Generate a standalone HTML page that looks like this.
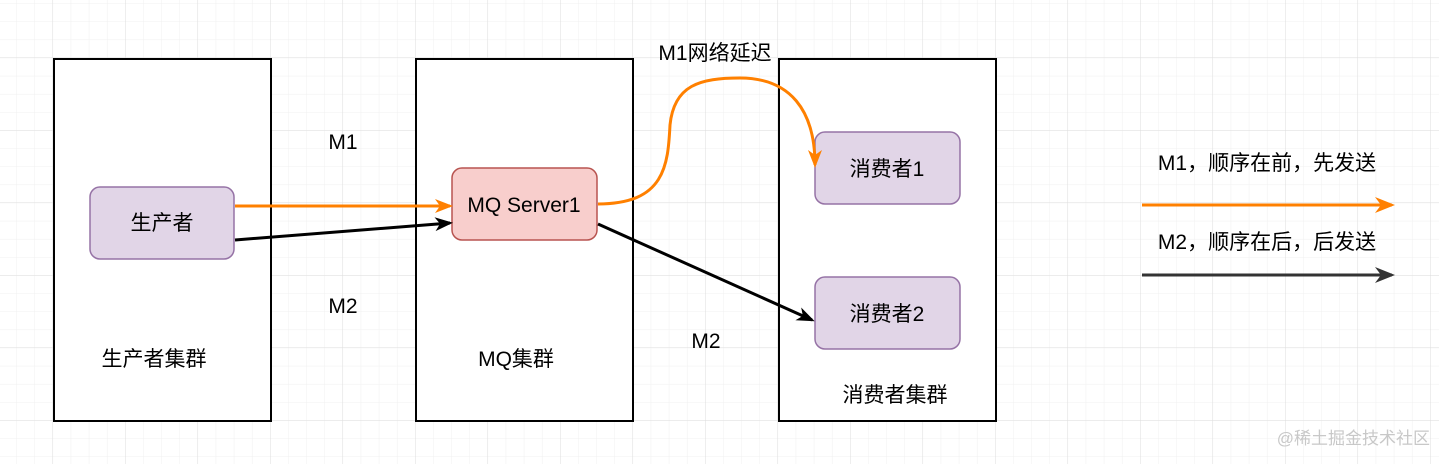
<!DOCTYPE html>
<html><head><meta charset="utf-8"><style>
html,body{margin:0;padding:0;background:#fff;}
</style></head><body>
<svg width="1439" height="464" xmlns="http://www.w3.org/2000/svg" font-family="Liberation Sans, Noto Sans CJK SC, sans-serif">
<defs>
<pattern id="minor" x="-1.3" y="3.8" width="18.125" height="18.125" patternUnits="userSpaceOnUse">
<path d="M18.125 0V18.125M0 18.125H18.125" stroke="#f0f0f0" stroke-width="1" fill="none"/>
</pattern>
<pattern id="major" x="-19.5" y="-14.5" width="72.5" height="72.5" patternUnits="userSpaceOnUse">
<path d="M72.5 0V72.5M0 72.5H72.5" stroke="#dedede" stroke-width="1" fill="none"/>
</pattern>
<marker id="ao" markerWidth="18" markerHeight="18" refX="15" refY="9" orient="auto" markerUnits="userSpaceOnUse" viewBox="0 0 18 18"><path d="M0,2 L18,9 L0,16 L5,9z" fill="#ff8000"/></marker>
<marker id="ak" markerWidth="18" markerHeight="18" refX="15" refY="9" orient="auto" markerUnits="userSpaceOnUse" viewBox="0 0 18 18"><path d="M0,2 L18,9 L0,16 L5,9z" fill="#000"/></marker>
<marker id="ao2" markerWidth="20" markerHeight="20" refX="17" refY="10" orient="auto" markerUnits="userSpaceOnUse" viewBox="0 0 20 20"><path d="M0,2 L20,10 L0,18 L6,10z" fill="#ff8000"/></marker>
<marker id="ag2" markerWidth="20" markerHeight="20" refX="17" refY="10" orient="auto" markerUnits="userSpaceOnUse" viewBox="0 0 20 20"><path d="M0,2 L20,10 L0,18 L6,10z" fill="#333"/></marker>
</defs>
<rect width="1439" height="464" fill="url(#minor)"/>
<rect width="1439" height="464" fill="url(#major)"/>
<g stroke="#000" stroke-width="2" fill="#fff">
<rect x="54" y="59" width="217" height="362"/>
<rect x="416" y="59" width="217" height="362"/>
<rect x="779" y="59" width="217" height="362"/>
</g>
<rect x="90" y="187" width="144" height="72" rx="10" fill="#e1d5e7" stroke="#9673a6" stroke-width="1.5"/>
<rect x="452" y="168" width="145" height="72" rx="10" fill="#f8cecc" stroke="#b85450" stroke-width="1.5"/>
<rect x="815" y="132" width="145" height="72" rx="10" fill="#e1d5e7" stroke="#9673a6" stroke-width="1.5"/>
<rect x="815" y="277" width="145" height="72" rx="10" fill="#e1d5e7" stroke="#9673a6" stroke-width="1.5"/>
<g font-size="21" text-anchor="middle" fill="#000">
<text x="162" y="230">生产者</text>
<text x="524" y="212">MQ Server1</text>
<text x="887" y="176">消费者1</text>
<text x="887" y="321">消费者2</text>
<text x="154" y="366">生产者集群</text>
<text x="516" y="366">MQ集群</text>
<text x="895" y="402">消费者集群</text>
<text x="343" y="149">M1</text>
<text x="343" y="313">M2</text>
<text x="706" y="348">M2</text>
<text x="715" y="60">M1网络延迟</text>
<text x="1267" y="170">M1，顺序在前，先发送</text>
<text x="1267" y="249">M2，顺序在后，后发送</text>
</g>
<path d="M235,206 L450,206" stroke="#ff8000" stroke-width="3" fill="none" marker-end="url(#ao)"/>
<path d="M235,240 L450,223" stroke="#000" stroke-width="3" fill="none" marker-end="url(#ak)"/>
<path d="M598,204 C665,204 668,165 670,125 C674,85 700,78 740,78 C790,78 815,110 815,165" stroke="#ff8000" stroke-width="3" fill="none" marker-end="url(#ao)"/>
<path d="M598,224 L812,320" stroke="#000" stroke-width="3" fill="none" marker-end="url(#ak)"/>
<path d="M1142,205 L1392,205" stroke="#ff8000" stroke-width="3" fill="none" marker-end="url(#ao2)"/>
<path d="M1142,275 L1392,275" stroke="#333" stroke-width="3" fill="none" marker-end="url(#ag2)"/>
<text x="1430" y="444" font-size="17" text-anchor="end" fill="#c8c8c8">@稀土掘金技术社区</text>
</svg>
</body></html>
